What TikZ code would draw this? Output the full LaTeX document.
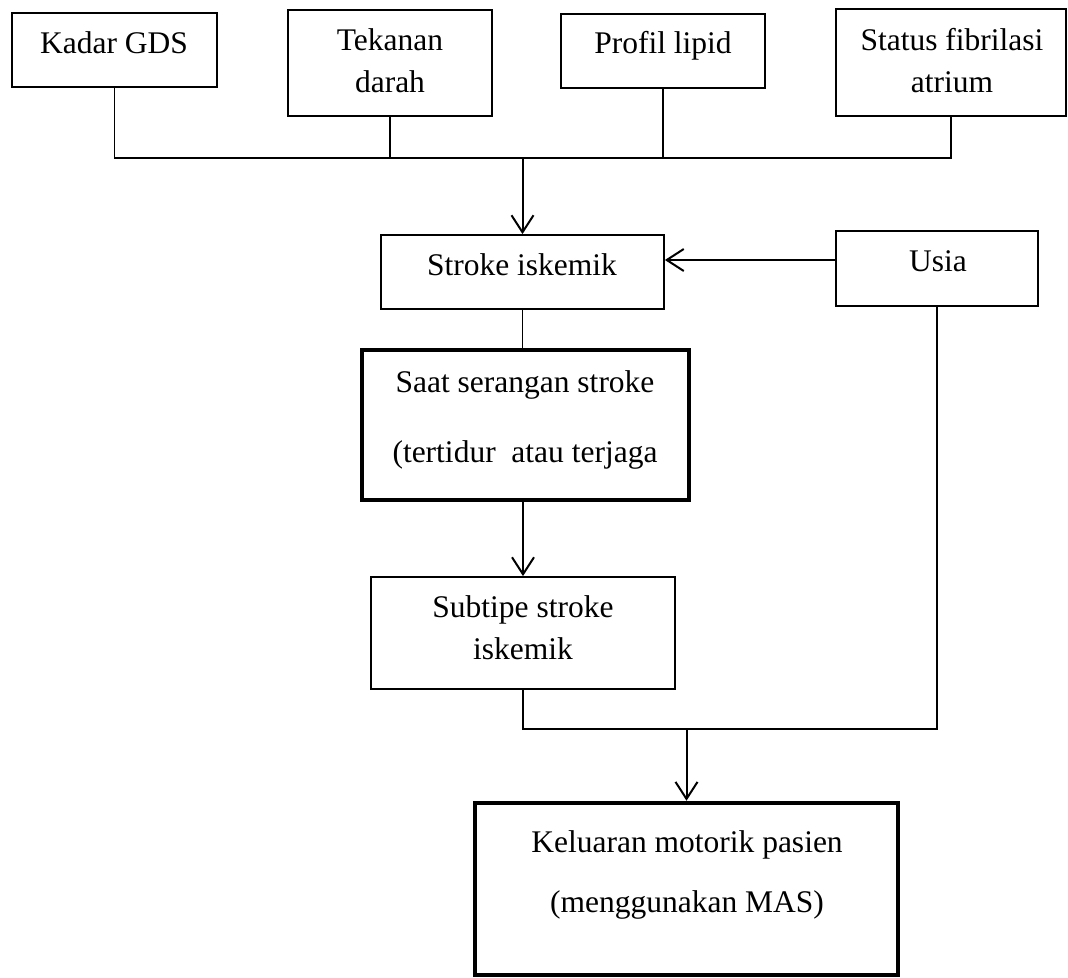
\documentclass[tikz,border=0pt]{standalone}
\usepackage{fontspec}
\setmainfont{Liberation Serif}
\usetikzlibrary{arrows.meta}
\begin{document}
\begin{tikzpicture}[x=1pt,y=-1pt,
  box/.style 2 args={draw, line width=1.8pt, inner sep=0pt, minimum width=#1, minimum height=#2},
  boldbox/.style={line width=4.5pt},
  txt/.style={inner sep=0pt, anchor=base, font=\fontsize{31.5}{42}\selectfont},
  link/.style={line width=1.4pt},
  arr/.style={line width=2pt, -{Straight Barb[length=17pt,width=22pt]}}]
\useasboundingbox (0,0) rectangle (1068,977);

% boxes
\node[box={205}{74}]  (kadar)   at (114.5,50) {};
\node[box={204}{106}] (tekanan) at (390,63) {};
\node[box={204}{74}]  (profil)  at (663,51) {};
\node[box={230}{107}] (status)  at (951,62.5) {};
\node[box={283}{74}]  (stroke)  at (522.5,272) {};
\node[box={202}{75}]  (usia)    at (937,268.5) {};
\node[box={327}{150}, boldbox] (saat) at (525.5,425) {};
\node[box={304}{112}] (subtipe) at (523,633) {};
\node[box={423}{172}, boldbox] (kel) at (686.5,889) {};

% texts
\node[txt] (kadart)   at (114,53)  {Kadar GDS};
\node[txt] (tekanant) at (390,50)  {\begin{tabular}[t]{@{}c@{}}Tekanan\\darah\end{tabular}};
\node[txt] (profilt)  at (663,53)  {Profil lipid};
\node[txt] (statust)  at (952,50)  {\begin{tabular}[t]{@{}c@{}}Status fibrilasi\\atrium\end{tabular}};
\node[txt] (stroket)  at (522,275) {Stroke iskemik};
\node[txt] (usiat)    at (938,271) {Usia};
\node[txt] (saatt)    at (525,392) {\begin{tabular}[t]{@{}c@{}}Saat serangan stroke\\[28pt](tertidur\ \ atau terjaga\end{tabular}};
\node[txt] (subtipet) at (523,617) {\begin{tabular}[t]{@{}c@{}}Subtipe stroke\\iskemik\end{tabular}};
\node[txt] (kelt)     at (687,852) {\begin{tabular}[t]{@{}c@{}}Keluaran motorik pasien\\[18pt](menggunakan MAS)\end{tabular}};

% connectors
\coordinate (top) at (0,158);
\coordinate (uy)  at (0,260);
\coordinate (bus) at (0,729);
\draw[link] (kadar.south) |- (status.south |- top) -- (status.south);
\draw[link] (tekanan.south) -- (tekanan.south |- top);
\draw[link] (profil.south) -- (profil.south |- top);
\draw[arr] (stroke.north |- top) -- (stroke.north);
\draw[arr] (usia.west |- uy) -- (stroke.east |- uy);
\draw[link] (stroke.south) -- (stroke.south |- saat.north);
\draw[arr] (subtipe.north |- saat.south) -- (subtipe.north);
\draw[link] (subtipe.south) |- (usia.south |- bus) -- (usia.south);
\draw[arr] (kel.north |- bus) -- (kel.north);
\end{tikzpicture}
\end{document}
